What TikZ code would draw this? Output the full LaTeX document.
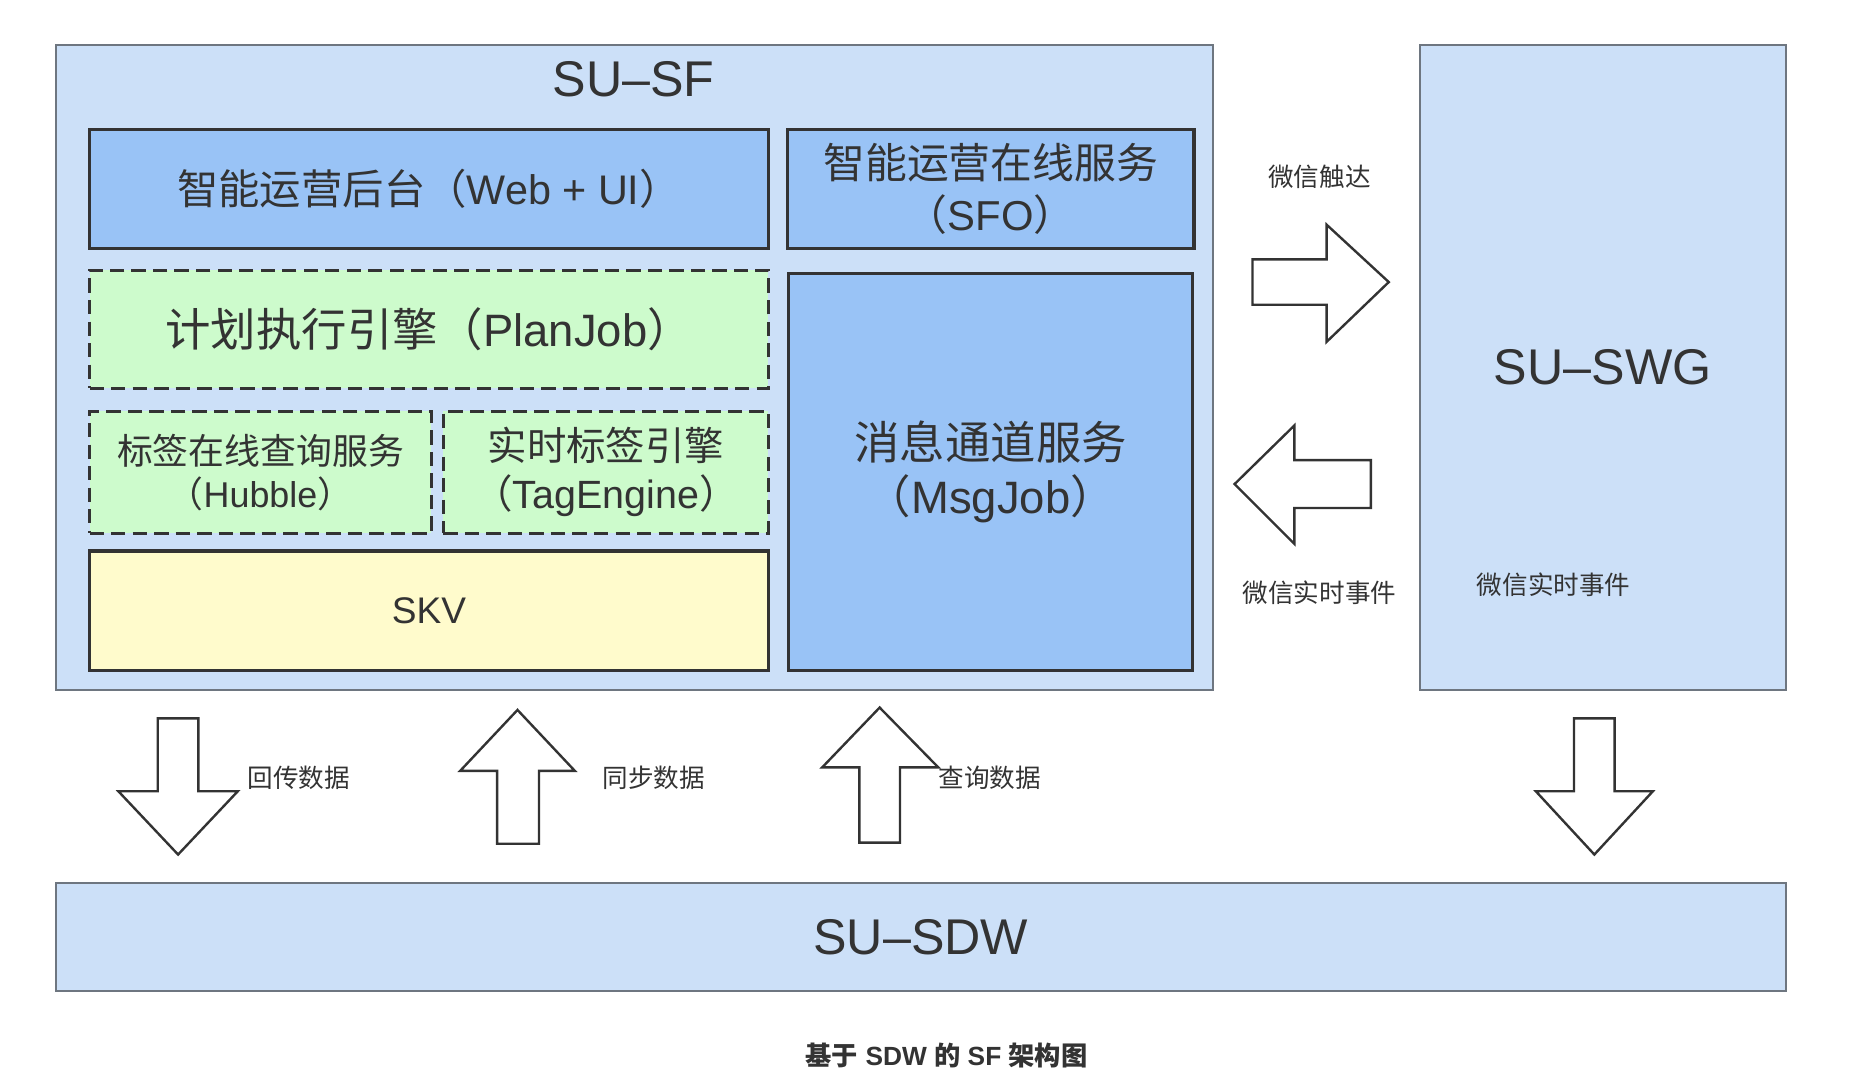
\documentclass[tikz,border=0pt]{standalone}
\usepackage{fontspec}
\setmainfont{Liberation Sans}
\newfontfamily\cjk{Noto Sans CJK SC}
\newcommand\ff[2]{\fontsize{#1}{#2}\selectfont}
\definecolor{outerblue}{HTML}{CCE0F8}
\definecolor{innerblue}{HTML}{99C3F6}
\definecolor{palegreen}{HTML}{CDFBCC}
\definecolor{paleyellow}{HTML}{FFFBCC}
\definecolor{txt}{HTML}{333333}
\definecolor{outerline}{HTML}{6E7680}
\begin{document}
\begin{tikzpicture}[x=0.5pt,y=-0.5pt,
  outerbox/.style={draw=outerline,line width=0.8pt,fill=outerblue,inner sep=0pt,text=txt},
  bluebox/.style={draw=txt,line width=1.3pt,fill=innerblue,inner sep=0pt,text=txt,align=center},
  greenbox/.style={draw=txt,line width=1.3pt,dashed,dash pattern=on 6pt off 3pt,fill=palegreen,inner sep=0pt,text=txt,align=center},
  yellowbox/.style={draw=txt,line width=1.3pt,fill=paleyellow,inner sep=0pt,text=txt},
  blockarrow/.style={draw=txt,line width=1pt,fill=white,line join=miter},
  lbl/.style={text=txt,inner sep=0pt,font=\cjk\ff{10.7}{13}}
]
\useasboundingbox (0,0) rectangle (1568,907);
\fill[white] (0,0) rectangle (1568,907);

% outer containers
\node[outerbox,minimum width=484pt,minimum height=269.5pt] (sf) at (531,307.5) {};
\node[text=txt,font=\ff{21}{25}] (sftitle) at (530,66) {SU–SF};
\node[outerbox,minimum width=153pt,minimum height=269.5pt,font=\ff{21}{25}] (swg) at (1341,307.5) {SU–SWG};
\node[outerbox,minimum width=723.5pt,minimum height=45pt,font=\ff{21}{25}] (sdw) at (770.5,784) {SU–SDW};

% inner boxes
\node[bluebox,minimum width=284pt,minimum height=50pt,font=\ff{17.3}{21}] (web) at (359,158)
  {{\cjk 智能运营后台（}Web + UI{\cjk ）}};
\node[bluebox,minimum width=170pt,minimum height=50pt,font=\ff{17.5}{21.5}] (sfo) at (829,158)
  {{\cjk 智能运营在线服务}\\{\cjk （}SFO{\cjk ）}};
\node[greenbox,minimum width=284pt,minimum height=49.5pt,font=\ff{19}{22}] (plan) at (359,275.5)
  {{\cjk 计划执行引擎（}PlanJob{\cjk ）}};
\node[greenbox,minimum width=143pt,minimum height=51pt,font=\ff{15}{18}] (hubble) at (218,395)
  {{\cjk 标签在线查询服务}\\{\cjk （}Hubble{\cjk ）}};
\node[greenbox,minimum width=136pt,minimum height=51pt,font=\ff{16.5}{20}] (tag) at (507,395)
  {{\cjk 实时标签引擎}\\{\cjk （}TagEngine{\cjk ）}};
\node[yellowbox,minimum width=284pt,minimum height=50pt,font=\ff{15.5}{18}] (skv) at (359,511) {SKV};
\node[bluebox,minimum width=169pt,minimum height=166pt,font=\ff{19}{22.5}] (msg) at (829,395)
  {{\cjk 消息通道服务}\\{\cjk （}MsgJob{\cjk ）}};

% labels
\node[lbl] (l1) at (1104,148) {微信触达};
\node[lbl] (l2) at (1104,496) {微信实时事件};
\node[lbl] (l3) at (1300,489) {微信实时事件};
\node[lbl] (l4) at (250,651) {回传数据};
\node[lbl] (l5) at (547,651) {同步数据};
\node[lbl] (l6) at (828,651) {查询数据};
\node[text=txt,inner sep=0pt] (cap) at (792,883)
  {\bfseries\ff{11}{13}{\cjk 基于} SDW {\cjk 的} SF {\cjk 架构图}};

% block arrows
\draw[blockarrow] (1048,217) -- (1110,217) -- (1110,188) -- (1162,236) -- (1110,286) -- (1110,255) -- (1048,255) -- cycle;
\draw[blockarrow] (1033,405) -- (1083,356) -- (1083,385) -- (1147,385) -- (1147,425) -- (1083,425) -- (1083,455) -- cycle;
\draw[blockarrow] (132,601) -- (166,601) -- (166,662) -- (199,662) -- (149,715) -- (99,662) -- (132,662) -- cycle;
\draw[blockarrow] (433,594) -- (481,645) -- (451,645) -- (451,706) -- (416,706) -- (416,645) -- (385,645) -- cycle;
\draw[blockarrow] (736,592) -- (785,642) -- (753,642) -- (753,705) -- (719,705) -- (719,642) -- (688,642) -- cycle;
\draw[blockarrow] (1317,601) -- (1351,601) -- (1351,662) -- (1383,662) -- (1334,715) -- (1285,662) -- (1317,662) -- cycle;
\end{tikzpicture}
\end{document}
